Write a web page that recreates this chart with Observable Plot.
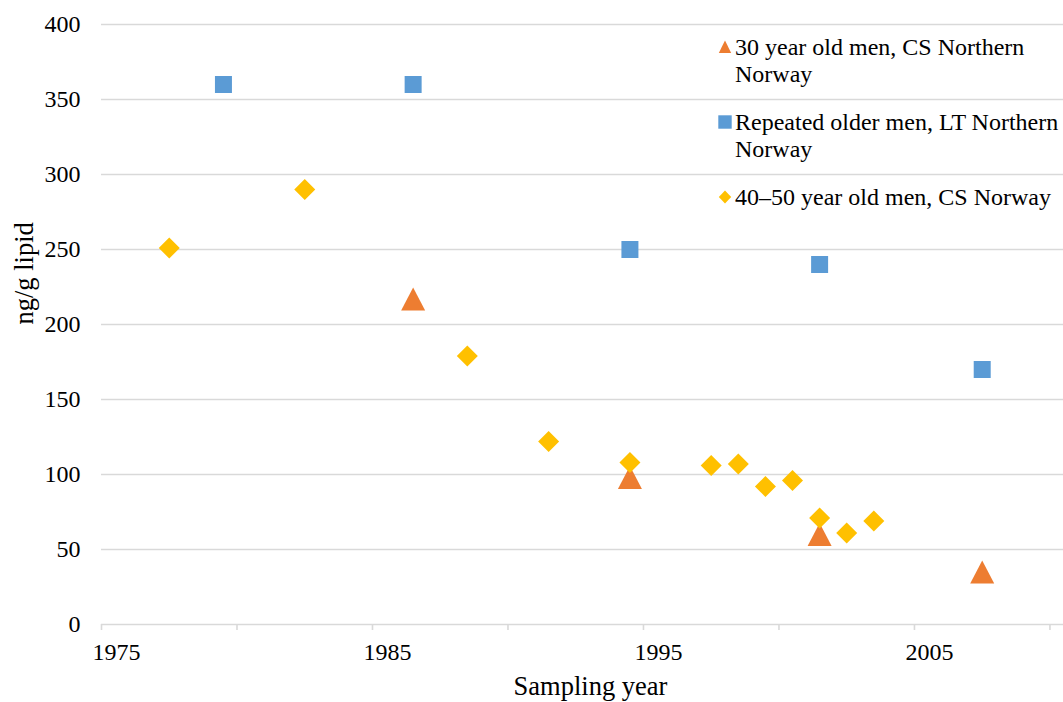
<!DOCTYPE html>
<html>
<head>
<meta charset="utf-8">
<script src="https://cdn.jsdelivr.net/npm/d3@7"></script>
<script src="https://cdn.jsdelivr.net/npm/@observablehq/plot@0.6"></script>
<style>
  html, body { margin: 0; padding: 0; background: #fff; }
  #wrap { position: relative; width: 1063px; height: 702px; font-family: "Liberation Serif", "Times New Roman", serif; }
  #wrap svg, #wrap svg text { font-family: "Liberation Serif", "Times New Roman", serif !important; }
  #legend { position: absolute; left: 715px; top: 34px; font-size: 24px; line-height: 26.5px; color: #000; }
  .entry { position: relative; padding-left: 20px; margin-bottom: 22px; white-space: nowrap; }
  .entry svg { position: absolute; left: 3px; top: 6px; }
</style>
</head>
<body>
<div id="wrap"><div id="legend"></div></div>
<script>
// ---- data (sampling year, ng/g lipid) ----
const seriesNames = [
  "30 year old men, CS Northern\nNorway",
  "Repeated older men, LT Northern\nNorway",
  "40–50 year old men, CS Norway"
];
const seriesColors = ["#ED7D31", "#5B9BD5", "#FFC000"];

const triYears  = [1986, 1994, 2001, 2007];
const triValues = [217, 98, 60, 35];

const sqYears  = [1979, 1986, 1994, 2001, 2007];
const sqValues = [360, 360, 250, 240, 170];

const diaYears  = [1977, 1982, 1988, 1991, 1994, 1997, 1998, 1999, 2000, 2001, 2002, 2003];
const diaValues = [251, 290, 179, 122, 108, 106, 107, 92, 96, 71, 61, 69];

const xTickYears  = [1975, 1980, 1985, 1990, 1995, 2000, 2005, 2010];
const xLabelYears = [1975, 1985, 1995, 2005];
const yTicks = [0, 50, 100, 150, 200, 250, 300, 350, 400];

// build tables
const tri = triYears.map((y, i) => ({year: y, value: triValues[i]}));
const sq  = sqYears.map((y, i) => ({year: y, value: sqValues[i]}));
const dia = diaYears.map((y, i) => ({year: y, value: diaValues[i]}));

// Excel date-axis style: a year's point sits in the middle of its year span
const mid = d => d.year + 0.5;

// custom symbols (centered on their bounding box)
const triSym = {draw(ctx, size) { const r = Math.sqrt(size / Math.PI);
  const hw = 1.2 * r, hh = 1.15 * r;
  ctx.moveTo(0, -hh); ctx.lineTo(hw, hh); ctx.lineTo(-hw, hh); ctx.closePath(); }};
const sqSym = {draw(ctx, size) { const r = Math.sqrt(size / Math.PI);
  const s = 0.85 * r; ctx.rect(-s, -s, 2 * s, 2 * s); }};
const diaSym = {draw(ctx, size) { const r = Math.sqrt(size / Math.PI);
  const s = 1.05 * r;
  ctx.moveTo(0, -s); ctx.lineTo(s, 0); ctx.lineTo(0, s); ctx.lineTo(-s, 0); ctx.closePath(); }};

const grid = "#d9d9d9";
const serif = "Liberation Serif, Times New Roman, serif";

const chart = Plot.plot({
  width: 1063,
  height: 702,
  marginLeft: 101,
  marginRight: 0,
  marginTop: 24,
  marginBottom: 78,
  style: {fontFamily: serif, fontSize: "24px", color: "#000", background: "#fff"},
  x: {domain: [1975, 2010.5]},
  y: {domain: [0, 400]},
  marks: [
    Plot.gridY(yTicks, {stroke: grid, strokeOpacity: 1, strokeWidth: 1.6}),
    Plot.axisY(yTicks, {tickSize: 0, tickPadding: 21, label: null, fill: "#000", fontFamily: serif}),
    Plot.axisX(xTickYears, {tickSize: 6, stroke: grid, strokeOpacity: 1, strokeWidth: 1.6, tickFormat: () => "", label: null}),
    Plot.axisX(xLabelYears.map(y => y + 0.5), {tickSize: 0, tickPadding: 18, dx: 1.5, tickFormat: d => String(d - 0.5), label: null, fill: "#000", fontFamily: serif}),
    Plot.text(["Sampling year"], {frameAnchor: "bottom", dx: 8, dy: 70, fill: "#000", fontFamily: serif, fontSize: 26.5}),
    Plot.text(["ng/g lipid"], {frameAnchor: "left", rotate: -90, dx: -76.5, fill: "#000", fontFamily: serif, fontSize: 26.5}),
    Plot.dot(tri, {x: mid, y: "value", symbol: triSym, r: 10, fill: seriesColors[0], stroke: "none"}),
    Plot.dot(sq,  {x: mid, y: "value", symbol: sqSym,  r: 10, fill: seriesColors[1], stroke: "none"}),
    Plot.dot(dia, {x: mid, y: "value", symbol: diaSym, r: 10, fill: seriesColors[2], stroke: "none"})
  ]
});
document.getElementById("wrap").prepend(chart);

// legend
const markerSvg = [
  '<svg width="14" height="14"><path d="M7,0.5 L13.2,13 L0.8,13 Z" fill="' + seriesColors[0] + '"/></svg>',
  '<svg width="14" height="14"><rect x="0.3" y="0.3" width="13.4" height="13.4" fill="' + seriesColors[1] + '"/></svg>',
  '<svg width="14" height="14"><path d="M7,0.5 L13.2,7 L7,13.5 L0.8,7 Z" fill="' + seriesColors[2] + '"/></svg>'
];
const legend = document.getElementById("legend");
seriesNames.forEach((name, i) => {
  const div = document.createElement("div");
  div.className = "entry";
  div.innerHTML = markerSvg[i] + name.split("\n").join("<br>");
  legend.appendChild(div);
});
</script>
</body>
</html>
